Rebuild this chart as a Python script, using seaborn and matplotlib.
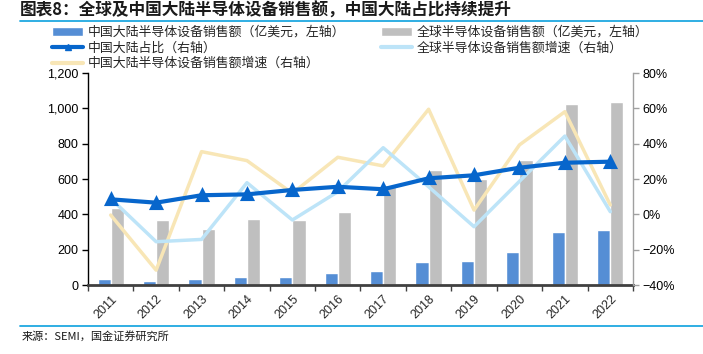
import pandas as pd
import matplotlib.pyplot as plt
import seaborn as sns
from matplotlib.lines import Line2D
from matplotlib.patches import Patch
from matplotlib.ticker import FuncFormatter, FixedLocator

# 数据
years = ["2011", "2012", "2013", "2014", "2015", "2016",
         "2017", "2018", "2019", "2020", "2021", "2022"]
china_sales = [32, 25, 32, 45, 45, 66, 81, 128, 136, 189, 298, 313]
global_sales = [438, 368, 317, 374, 368, 415, 565, 650, 602, 710, 1027, 1038]
china_share = [8.5, 6.6, 10.8, 11.3, 13.8, 15.6, 14.2, 20.4, 22.1, 26.4, 29.2, 29.8]
global_growth = [9.0, -15.5, -14.2, 17.9, -3.2, 12.8, 37.7, 15.6, -7.0, 18.7, 44.3, 1.5]
china_growth = [-0.4, -31.6, 35.5, 30.4, 11.9, 32.3, 27.4, 59.5, 2.4, 39.3, 58.1, 5.3]

lbl_china = "中国大陆半导体设备销售额（亿美元，左轴）"
lbl_global = "全球半导体设备销售额（亿美元，左轴）"
lbl_share = "中国大陆占比（右轴）"
lbl_ggrowth = "全球半导体设备销售额增速（右轴）"
lbl_cgrowth = "中国大陆半导体设备销售额增速（右轴）"

c_china = "#558ED5"
c_global = "#BFBFBF"
c_share = "#0766CC"
c_ggrowth = "#BDE4F8"
c_cgrowth = "#F8E6B6"

sns.set_theme(style="white")
plt.rcParams["font.family"] = ["Liberation Sans", "Noto Sans CJK SC", "DejaVu Sans"]
cjk = ["Noto Sans CJK SC", "DejaVu Sans"]

df_bar = pd.DataFrame({
    "year": years * 2,
    "value": china_sales + global_sales,
    "series": [lbl_china] * len(years) + [lbl_global] * len(years),
})
df_line = pd.DataFrame({
    "year": years,
    "share": china_share,
    "ggrowth": global_growth,
    "cgrowth": china_growth,
})

fig = plt.figure(figsize=(7.03, 3.54), dpi=100)
ax = fig.add_axes([88 / 703, 1 - 285 / 354, 545 / 703, 212 / 354])

sns.barplot(data=df_bar, x="year", y="value", hue="series",
            palette={lbl_china: c_china, lbl_global: c_global},
            width=0.58, gap=0.0, ax=ax, legend=False, saturation=1)

ax2 = ax.twinx()
sns.pointplot(data=df_line, x="year", y="cgrowth", ax=ax2, color=c_cgrowth,
              marker="", linewidth=2.5, errorbar=None)
sns.pointplot(data=df_line, x="year", y="ggrowth", ax=ax2, color=c_ggrowth,
              marker="", linewidth=2.5, errorbar=None)
sns.pointplot(data=df_line, x="year", y="share", ax=ax2, color=c_share,
              marker="^", markersize=6.5, linewidth=3, errorbar=None)

# 左轴
ax.set_ylim(0, 1200)
ax.set_yticks(range(0, 1201, 200))
ax.yaxis.set_major_formatter(FuncFormatter(lambda v, p: f"{int(v):,}"))
ax.set_xlim(-0.5, len(years) - 0.5)
ax.set_xlabel("")
ax.set_ylabel("")
ax.tick_params(axis="y", direction="out", length=4, width=1, colors="black",
               labelsize=9, left=True, pad=3)
ax.set_xticks(range(len(years)))
ax.set_xticklabels(years, rotation=45, ha="right", rotation_mode="anchor", fontsize=9)
ax.tick_params(axis="x", length=0, pad=6)
ax.xaxis.set_minor_locator(FixedLocator([i - 0.5 for i in range(len(years) + 1)]))
ax.tick_params(axis="x", which="minor", direction="out", length=4, width=1,
               color="#404040", bottom=True)

# 右轴
ax2.set_ylim(-40, 80)
ax2.set_yticks(range(-40, 81, 20))
ax2.yaxis.set_major_formatter(FuncFormatter(lambda v, p: f"{int(v)}%".replace("-", "−")))
ax2.set_ylabel("")
ax2.set_xlabel("")
ax2.tick_params(axis="y", direction="out", length=4, width=1, colors="black",
                labelsize=9, right=True, pad=3)
ax2.tick_params(axis="y", color="#A0A0A0")
ax.tick_params(axis="y", color="black")

for a in (ax, ax2):
    a.grid(False)
    a.spines["top"].set_visible(False)
ax.spines["right"].set_visible(False)
ax2.spines["left"].set_visible(False)
ax2.spines["bottom"].set_visible(False)
ax.spines["left"].set_color("black")
ax.spines["left"].set_linewidth(1)
ax.spines["bottom"].set_color("#404040")
ax.spines["bottom"].set_linewidth(2)
ax.spines["bottom"].set_zorder(5)
ax2.spines["right"].set_color("#A0A0A0")
ax2.spines["right"].set_linewidth(1)
ax2.set_xlim(-0.5, len(years) - 0.5)

# 图例
handles = [
    Patch(facecolor=c_china, label=lbl_china),
    Line2D([], [], color=c_share, lw=3, marker="^", markersize=5, label=lbl_share),
    Line2D([], [], color=c_cgrowth, lw=3, label=lbl_cgrowth),
    Patch(facecolor=c_global, label=lbl_global),
    Line2D([], [], color=c_ggrowth, lw=3, label=lbl_ggrowth),
]
fig.legend(handles=handles, ncol=2, loc="upper left",
           bbox_to_anchor=(52 / 703, 1 - 26 / 354), frameon=False,
           prop={"family": cjk, "size": 9.3}, handlelength=2.4, handleheight=0.6,
           handletextpad=0.35, columnspacing=2.8, labelspacing=0.2,
           borderpad=0, borderaxespad=0)

# 标题、来源与分隔线
fig.text(20 / 703, 1 - 11 / 354, "图表8：全球及中国大陆半导体设备销售额，中国大陆占比持续提升",
         family=cjk, fontsize=12, fontweight="bold", fontstyle="italic",
         va="center", ha="left", color="#1a1a1a")
fig.add_artist(Line2D([20 / 703, 1.0], [1 - 21 / 354, 1 - 21 / 354],
                      transform=fig.transFigure, color="#1FA8E0", lw=1.3))
fig.add_artist(Line2D([20 / 703, 1.0], [1 - 326 / 354, 1 - 326 / 354],
                      transform=fig.transFigure, color="#1FA8E0", lw=1.3))
fig.text(22 / 703, 1 - 336 / 354, "来源：SEMI，国金证券研究所", family=cjk,
         fontsize=8, va="center", ha="left", color="#1a1a1a")

fig.savefig("out.png", dpi=100)
